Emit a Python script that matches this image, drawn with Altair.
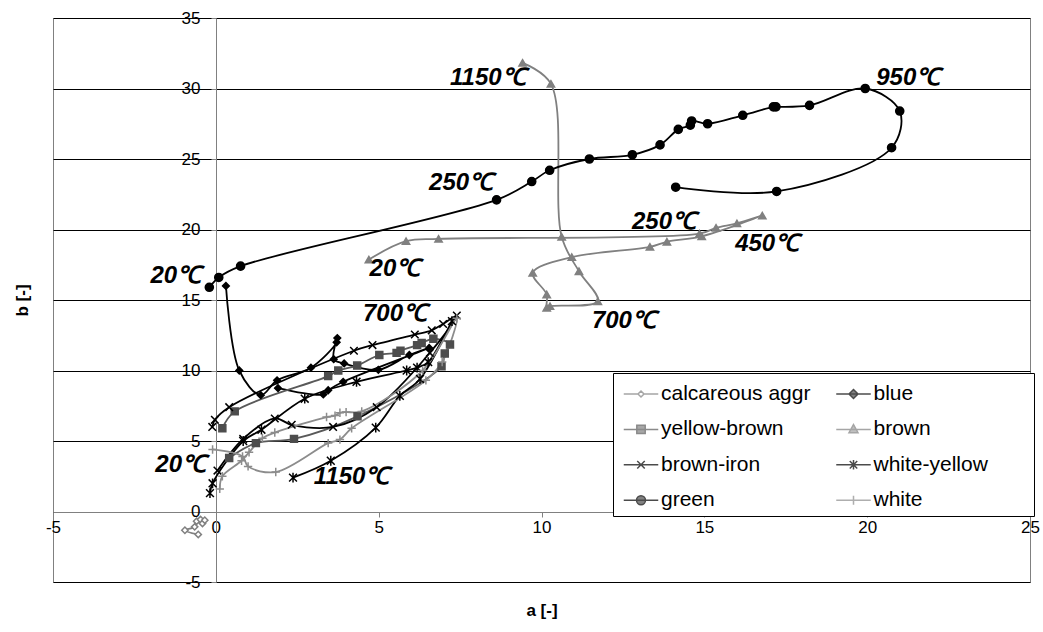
import altair as alt
import pandas as pd

series_names = ["calcareous aggr", "blue", "yellow-brown", "brown",
                "brown-iron", "white-yellow", "green", "white"]

calc_a = [-0.54, -0.95, -0.65, -0.59, -0.47, -0.41, -0.34]
calc_b = [-1.63, -1.33, -1.09, -0.69, -0.57, -0.85, -0.62]

blue_a = [0.31, 0.72, 1.38, 1.88, 2.92, 3.71, 3.73, 3.62, 3.94, 4.99, 5.94, 6.55, 3.91, 3.45, 3.30, 1.91]
blue_b = [16.0, 10.0, 8.25, 9.3, 10.2, 12.0, 12.3, 10.8, 10.5, 10.05, 11.1, 11.6, 9.2, 8.6, 8.3, 8.75]

yb_a = [0.41, 1.23, 2.40, 4.35, 6.93, 7.03, 7.19, 6.68, 6.32, 6.18, 5.67, 5.55, 5.02, 4.34, 3.76, 3.45, 0.58, 0.2]
yb_b = [3.8, 4.85, 5.15, 6.75, 10.3, 11.2, 11.85, 12.25, 11.95, 11.8, 11.4, 11.25, 11.1, 10.35, 10.0, 9.6, 7.1, 5.9]

brown_a = [4.70, 5.84, 6.84, 14.85, 15.36, 16.0, 16.78, 14.92, 13.85, 13.33, 10.93, 9.73,
           10.16, 10.16, 10.26, 11.73, 11.15, 10.62, 10.29, 9.42]
brown_b = [17.87, 19.17, 19.34, 19.70, 20.12, 20.43, 20.99, 19.52, 19.13, 18.77, 18.04, 16.93,
           15.39, 14.45, 14.56, 14.91, 17.04, 19.48, 30.33, 31.82]

bi_a = [0.05, 0.84, 1.81, 2.33, 3.6, 4.94, 6.57, 7.4, 6.98, 6.63, 6.11, 4.81, 4.24, 0.41, -0.03, -0.11]
bi_b = [2.9, 5.15, 6.6, 6.15, 6.0, 7.4, 11.25, 13.9, 13.3, 12.85, 12.55, 11.8, 11.4, 7.4, 6.5, 6.0]

wy_a = [-0.18, -0.1, 0.84, 1.40, 2.73, 4.32, 5.86, 6.18, 6.52, 7.25, 6.27, 5.65, 4.91, 3.53, 2.37]
wy_b = [1.3, 2.0, 5.0, 5.8, 8.0, 9.2, 10.0, 10.2, 10.6, 13.5, 9.4, 8.2, 5.95, 3.6, 2.4]

green_a = [-0.2, 0.09, 0.76, 8.62, 9.70, 10.25, 11.47, 12.79, 13.64, 14.2, 14.57, 14.61, 15.1,
           16.18, 17.12, 17.2, 18.23, 19.94, 21.0, 20.75, 17.22, 14.12]
green_b = [15.9, 16.6, 17.4, 22.1, 23.4, 24.2, 25.0, 25.3, 26.0, 27.1, 27.4, 27.7, 27.5,
           28.1, 28.7, 28.7, 28.8, 30.0, 28.4, 25.8, 22.7, 23.0]

white_a = [0.12, 0.2, 0.79, 1.02, 1.43, 1.81, 3.40, 3.66, 3.81, 4.0, 4.48, 6.35, 7.4, 6.95, 6.45,
           4.17, 3.81, 3.45, 1.84, 0.99, 0.82, -0.1]
white_b = [1.6, 2.5, 3.6, 4.2, 5.2, 5.6, 6.7, 6.8, 7.0, 7.05, 7.1, 10.0, 13.7, 10.6, 9.3,
           5.9, 5.1, 4.85, 2.8, 3.2, 3.9, 4.4]

label_text = ["1150℃", "250℃", "950℃", "250℃", "450℃", "700℃", "20℃", "700℃", "20℃", "20℃", "1150℃"]
label_a = [8.35, 7.53, 21.26, 13.76, 16.93, 12.53, 5.5, 5.5, -1.23, -1.08, 4.17]
label_b = [30.75, 23.3, 30.75, 20.5, 19.0, 13.5, 17.2, 14.0, 16.7, 3.3, 2.45]

x_ticks = [-5, 0, 5, 10, 15, 20, 25]
y_ticks = [-5, 0, 5, 10, 15, 20, 25, 30, 35]

series_data = {
    "calcareous aggr": (calc_a, calc_b),
    "blue": (blue_a, blue_b),
    "yellow-brown": (yb_a, yb_b),
    "brown": (brown_a, brown_b),
    "brown-iron": (bi_a, bi_b),
    "white-yellow": (wy_a, wy_b),
    "green": (green_a, green_b),
    "white": (white_a, white_b),
}
rows = []
for name, (aa, bb) in series_data.items():
    for i, (a, b) in enumerate(zip(aa, bb)):
        rows.append({"series": name, "i": i, "a": a, "b": b})
df = pd.DataFrame(rows)
labels_df = pd.DataFrame({"t": label_text, "a": label_a, "b": label_b})

stroke_colors = ["#808080", "#000000", "#4d4d4d", "#808080", "#000000", "#000000", "#000000", "#8c8c8c"]
line_colors = ["#808080", "#000000", "#595959", "#808080", "#000000", "#000000", "#000000", "#8c8c8c"]
fill_colors = ["white", "#000000", "#4d4d4d", "#808080", "transparent", "transparent", "#000000", "transparent"]
marker_shapes = ["diamond", "diamond", "square", "triangle-up",
                 "M-1,-1L1,1M-1,1L1,-1",
                 "M-1,-1L1,1M-1,1L1,-1M0,-1.25L0,1.25",
                 "circle",
                 "M-1,0L1,0M0,-1L0,1"]
marker_sizes = [40, 70, 100, 85, 70, 80, 75, 90]
legend_shapes = [
    "M-1.15,0H-0.2M0.2,0H1.15M0,-0.2L0.2,0L0,0.2L-0.2,0Z",
    "M-1.15,0H1.15M0,-0.3L0.3,0L0,0.3L-0.3,0Z",
    "M-1.15,0H1.15M-0.28,-0.28H0.28V0.28H-0.28Z",
    "M-1.15,0H1.15M0,-0.32L0.3,0.22L-0.3,0.22Z",
    "M-1.15,0H1.15M-0.25,-0.25L0.25,0.25M-0.25,0.25L0.25,-0.25",
    "M-1.15,0H1.15M-0.25,-0.25L0.25,0.25M-0.25,0.25L0.25,-0.25M0,-0.32V0.32",
    "M-1.15,0H1.15M-0.3,0A0.3,0.3,0,1,0,0.3,0A0.3,0.3,0,1,0,-0.3,0Z",
    "M-1.15,0H1.15M0,-0.3V0.3",
]

FONT = "Liberation Sans"
xscale = alt.Scale(domain=[-5, 25], nice=False, zero=False)
yscale = alt.Scale(domain=[-5, 35], nice=False, zero=False)

x_axis = alt.Axis(values=x_ticks, offset=-70, grid=False, domainColor="#808080",
                  tickColor="#808080", tickSize=5, labelFont=FONT, labelFontSize=17,
                  labelColor="black", labelPadding=2, labelFlush=False, labelOverlap=False,
                  labelExpr="'' + datum.value",
                  title="a [-]", titleFont=FONT,
                  titleFontSize=17, titleFontWeight="bold", titleColor="black",
                  titleY=98, titleBaseline="middle", orient="bottom")
y_axis = alt.Axis(values=y_ticks, offset=-163, grid=True, gridColor="black", gridWidth=1,
                  domainColor="#808080", tickColor="#808080", tickSize=5, labelFont=FONT,
                  labelFontSize=17, labelColor="black", labelPadding=11, labelOverlap=False,
                  labelExpr="'' + datum.value",
                  title="b [-]", titleFont=FONT,
                  titleFontSize=17, titleFontWeight="bold", titleColor="black",
                  titleX=-194, titleY=282, titleBaseline="middle", titleAngle=270, orient="left")

X = alt.X("a:Q", scale=xscale, axis=x_axis)
Y = alt.Y("b:Q", scale=yscale, axis=y_axis)

base = alt.Chart(df)

lines = base.mark_line(interpolate="catmull-rom", strokeWidth=1.8).encode(
    x=X, y=Y,
    order="i:Q",
    stroke=alt.Stroke("series:N", scale=alt.Scale(domain=series_names, range=line_colors), legend=None),
)

points = base.mark_point(strokeWidth=1.5, opacity=1).encode(
    x=X, y=Y,
    shape=alt.Shape("series:N", scale=alt.Scale(domain=series_names, range=marker_shapes), legend=None),
    fill=alt.Fill("series:N", scale=alt.Scale(domain=series_names, range=fill_colors), legend=None),
    stroke=alt.Stroke("series:N", scale=alt.Scale(domain=series_names, range=stroke_colors), legend=None),
    size=alt.Size("series:N", scale=alt.Scale(domain=series_names, range=marker_sizes), legend=None),
)

# invisible trailing padding (non-breaking spaces closed by a zero-width char so it is not trimmed)
pad = "\u00a0" * 7 + "\u200b"
legend_def = alt.Legend(
    title=None, orient="none", legendX=560, legendY=355, columns=2, direction="horizontal",
    columnPadding=19.5, rowPadding=9.4, padding=5, symbolSize=900, symbolStrokeWidth=1.5,
    symbolOffset=7, labelOffset=4, labelFont=FONT, labelFontSize=21, labelColor="black",
    labelLimit=400, fillColor="white", strokeColor="black", gridAlign="each",
    labelExpr="datum.label == 'white-yellow' ? datum.label + '" + pad + "' : datum.label",
)

legend_layer = base.transform_filter("false").mark_point(strokeWidth=1.5).encode(
    x=X, y=Y,
    shape=alt.Shape("series:N", scale=alt.Scale(domain=series_names, range=legend_shapes), legend=legend_def),
    fill=alt.Fill("series:N", scale=alt.Scale(domain=series_names, range=fill_colors), legend=legend_def),
    stroke=alt.Stroke("series:N", scale=alt.Scale(domain=series_names, range=line_colors), legend=legend_def),
)

texts = alt.Chart(labels_df).mark_text(
    font=FONT, fontSize=24, fontWeight="bold", fontStyle="italic", color="black",
    align="center", baseline="middle"
).encode(
    x=X, y=Y,
    text="t:N",
)

chart = alt.layer(lines, points, legend_layer, texts).resolve_scale(
    shape="independent", fill="independent", stroke="independent", size="independent"
).properties(
    width=977, height=564,
    autosize=alt.AutoSizeParams(type="none"),
    padding={"left": 53, "top": 18, "right": 13, "bottom": 50},
    background="white",
).configure_view(stroke="#808080", strokeWidth=1)

chart.save("out.html", embed_options={"renderer": "svg", "actions": False})
